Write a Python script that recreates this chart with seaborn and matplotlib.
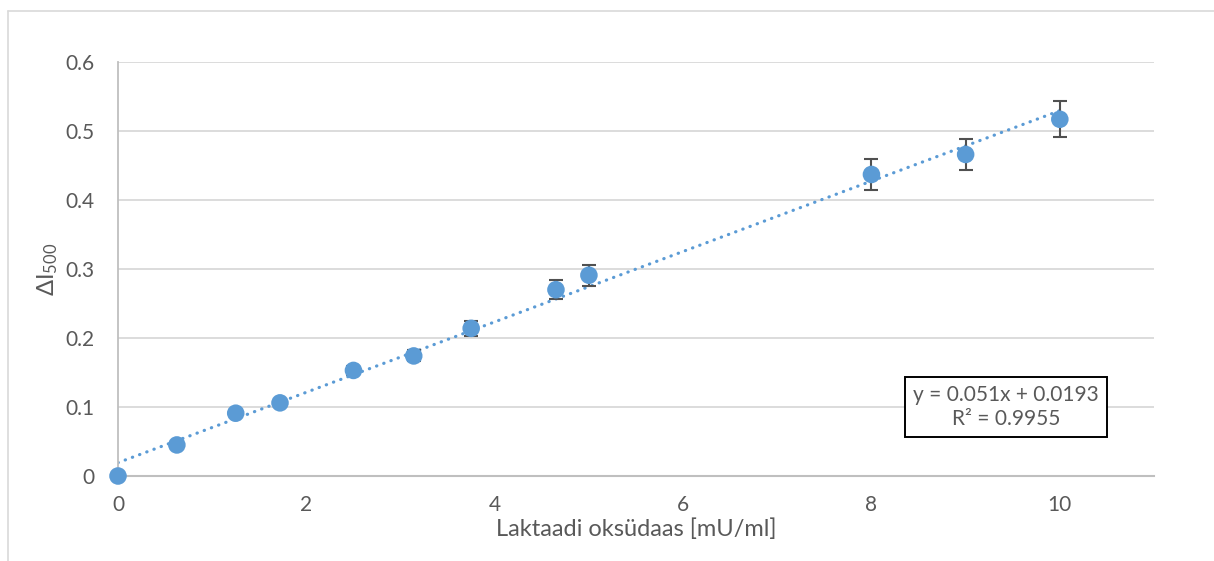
import numpy as np
import pandas as pd
import seaborn as sns
from matplotlib import pyplot as plt
from matplotlib.lines import Line2D

# data
konts = [0, 0.625, 1.25, 1.72, 2.5, 3.14, 3.75, 4.65, 5.0, 8.0, 9.0, 10.0]
delta_i = [0.0, 0.045, 0.091, 0.106, 0.153, 0.174, 0.214, 0.270, 0.291, 0.437, 0.466, 0.517]
viga = [0.0, 0.002, 0.003, 0.004, 0.006, 0.008, 0.011, 0.014, 0.015, 0.022, 0.023, 0.026]
x_ticks = [0, 2, 4, 6, 8, 10]
y_ticks = [0, 0.1, 0.2, 0.3, 0.4, 0.5, 0.6]
y_tick_labels = ['0', '0.1', '0.2', '0.3', '0.4', '0.5', '0.6']
vorrand = 'y = 0.051x + 0.0193\nR² = 0.9955'

df = pd.DataFrame({'x': konts, 'y': delta_i, 'err': viga})

sns.set_theme(style='white')
plt.rcParams['font.family'] = ['Lato', 'DejaVu Sans']
plt.rcParams['mathtext.fontset'] = 'custom'
plt.rcParams['mathtext.rm'] = 'Lato'
plt.rcParams['mathtext.it'] = 'Lato:italic'

blue = '#5b9bd5'
txt = '#595959'

fig = plt.figure(figsize=(12.14, 5.61), dpi=100)
ax = fig.add_axes([118 / 1214, 1 - 476 / 561, (1154 - 118) / 1214, (476 - 62) / 561])

# trend line
sns.regplot(data=df, x='x', y='y', ax=ax, ci=None, scatter=False,
            line_kws=dict(color=blue, linestyle=(0, (0.1, 2.3)), linewidth=2.3,
                          dash_capstyle='round', zorder=2))
ax.errorbar(df['x'], df['y'], yerr=df['err'], fmt='none', ecolor='#505050',
            elinewidth=1.5, capsize=5, capthick=1.5, zorder=3)
sns.scatterplot(data=df, x='x', y='y', ax=ax, color=blue, s=160,
                edgecolor='none', zorder=4, legend=False, clip_on=False)

ax.set_xlim(0, 11)
ax.set_ylim(0, 0.6)
ax.set_xticks(x_ticks)
ax.set_yticks(y_ticks)
ax.set_yticklabels(y_tick_labels)
ax.yaxis.grid(True, color='#d9d9d9', linewidth=1.3)
ax.xaxis.grid(False)
ax.set_axisbelow(True)
for s in ['top', 'right']:
    ax.spines[s].set_visible(False)
ax.spines['left'].set_color('#bfbfbf')
ax.spines['bottom'].set_color('#bfbfbf')
ax.spines['left'].set_linewidth(1.3)
ax.spines['bottom'].set_linewidth(1.5)
ax.tick_params(axis='both', length=0, labelsize=15, colors=txt)
ax.tick_params(axis='y', pad=17)
ax.tick_params(axis='x', pad=14)

ax.set_xlabel('Laktaadi oksüdaas [mU/ml]', fontsize=17, color=txt, labelpad=2)
ax.set_ylabel(r'$\Delta\mathrm{I}_{500}$', fontsize=17, color=txt, labelpad=4)

ax.text(1006 / 1214, 1 - 407 / 561, vorrand, transform=fig.transFigure,
        ha='center', va='center', fontsize=15, color=txt, linespacing=1.2,
        bbox=dict(boxstyle='square,pad=0.4', facecolor='white', edgecolor='black', linewidth=1.4),
        zorder=5)

# outer chart frame (top and left edges only visible)
fig.add_artist(Line2D([8 / 1214, 1.0], [1 - 11 / 561] * 2, transform=fig.transFigure,
                      color='#d9d9d9', linewidth=1.2))
fig.add_artist(Line2D([8 / 1214] * 2, [0, 1 - 11 / 561], transform=fig.transFigure,
                      color='#d9d9d9', linewidth=1.2))

fig.savefig('out.png', dpi=100)
